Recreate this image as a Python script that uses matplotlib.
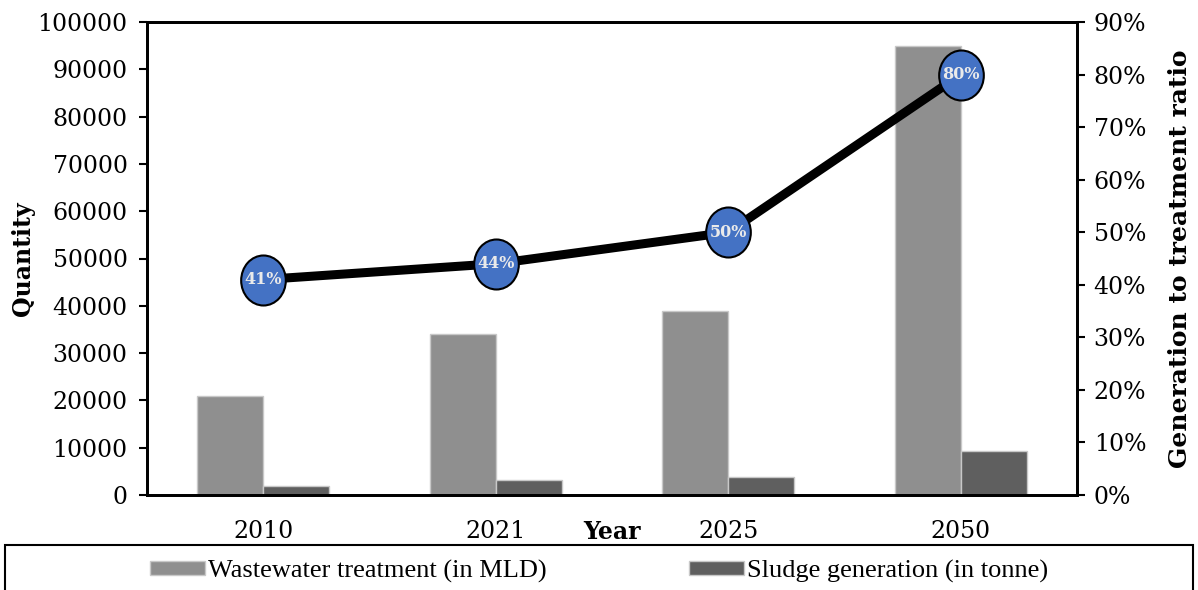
import matplotlib.pyplot as plt
from matplotlib.patches import Rectangle
from matplotlib.path import Path
import numpy as np

years = ['2010', '2021', '2025', '2050']
wastewater = [21000, 34000, 39000, 95000]
sludge = [1800, 3200, 3700, 9300]
ratio = [41, 44, 50, 80]
ratio_labels = ['41%', '44%', '50%', '80%']

plt.rcParams['font.family'] = ['DejaVu Serif']

fig = plt.figure(figsize=(11.98, 5.90), dpi=100)
ax = fig.add_axes([147 / 1198, 1 - 495 / 590, 930 / 1198, 473 / 590])

x = np.arange(len(years))
w = 0.284
ax.bar(x - w / 2, wastewater, w, color='#8f8f8f', edgecolor='#c8c8c8', linewidth=1,
       label='Wastewater treatment (in MLD)', zorder=2)
ax.bar(x + w / 2, sludge, w, color='#5f5f5f', edgecolor='#c8c8c8', linewidth=1,
       label='Sludge generation (in tonne)', zorder=2)

ax.set_xlim(-0.5, len(years) - 0.5)
ax.set_ylim(0, 100000)
ax.set_yticks(np.arange(0, 100001, 10000))
ax.set_xticks(x)
ax.set_xticklabels(years)
ax.tick_params(axis='y', labelsize=17, length=6, width=1.5, pad=8)
ax.tick_params(axis='x', labelsize=17, length=0, pad=18)
for s in ax.spines.values():
    s.set_linewidth(2)
ax.set_ylabel('Quantity', fontsize=17, fontweight='bold', labelpad=2)
ax.text(1.5, -0.052, 'Year', transform=ax.get_xaxis_transform(), ha='center', va='top',
        fontsize=17, fontweight='bold')

ax2 = ax.twinx()
ax2.set_ylim(0, 90)
ax2.set_yticks(np.arange(0, 91, 10))
ax2.set_yticklabels([f'{v}%' for v in range(0, 91, 10)])
ax2.tick_params(axis='y', labelsize=17, length=6, width=1.5, pad=6)
for s in ax2.spines.values():
    s.set_linewidth(2)
ax2.set_ylabel('Generation to treatment ratio', fontsize=18, fontweight='bold', labelpad=16)

# slightly tall ellipse marker like the original
circ = Path.unit_circle()
oval = Path(circ.vertices * [1.0, 1.12], circ.codes)
ax2.plot(x, ratio, color='black', linewidth=6.5, zorder=3)
ax2.plot(x, ratio, linestyle='none', marker=oval, markersize=36, markerfacecolor='#4472c4',
         markeredgecolor='black', markeredgewidth=1.5, zorder=4, clip_on=False)
for xi, yi, lab in zip(x, ratio, ratio_labels):
    ax2.text(xi, yi, lab, ha='center', va='center', fontsize=11.5, fontweight='bold',
             color='#eaeaea', zorder=5)

# legend box spanning the figure width
fig.patches.append(Rectangle((5 / 1198, -0.05), 1188 / 1198, 45 / 590 + 0.05,
                             transform=fig.transFigure, fill=False, edgecolor='black',
                             linewidth=1.5))
h, l = ax.get_legend_handles_labels()
fig.legend(h, l, loc='center', bbox_to_anchor=(0.5, 1 - 571 / 590), ncol=2, frameon=False,
           prop={'family': 'Liberation Serif', 'size': 19}, handlelength=2.1,
           handleheight=0.45, handletextpad=0.1, columnspacing=5.4)

fig.savefig('out.png', dpi=100)
